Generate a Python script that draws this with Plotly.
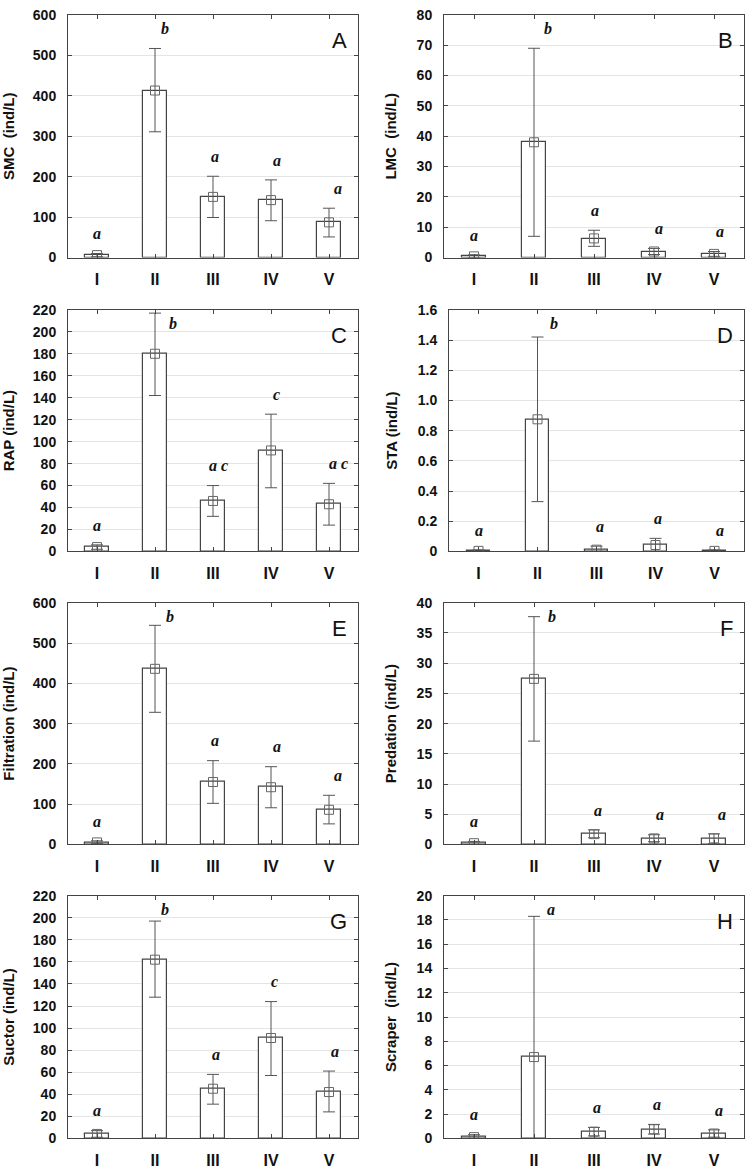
import plotly.graph_objects as go

categories = ["I", "II", "III", "IV", "V"]

# Panel A: SMC
smc_mean = [6, 413, 150, 142, 87]
smc_low = [2, 311, 99, 91, 51]
smc_high = [10, 517, 201, 192, 122]
smc_letters = ["a", "b", "a", "a", "a"]

# Panel B: LMC
lmc_mean = [0.4, 38, 6.3, 2.0, 1.2]
lmc_low = [0.0, 7, 3.7, 1.0, 0.4]
lmc_high = [0.9, 69, 9.0, 3.0, 2.0]
lmc_letters = ["a", "b", "a", "a", "a"]

# Panel C: RAP
rap_mean = [4, 180, 46, 92, 43]
rap_low = [2, 142, 32, 58, 24]
rap_high = [6, 217, 60, 125, 62]
rap_letters = ["a", "b", "a c", "c", "a c"]

# Panel D: STA
sta_mean = [0.004, 0.875, 0.012, 0.043, 0.004]
sta_low = [0.0, 0.33, 0.0, 0.0, 0.0]
sta_high = [0.01, 1.42, 0.035, 0.087, 0.01]
sta_letters = ["a", "b", "a", "a", "a"]

# Panel E: Filtration
filt_mean = [5, 436, 155, 142, 86]
filt_low = [2, 328, 102, 91, 51]
filt_high = [9, 544, 208, 193, 122]
filt_letters = ["a", "b", "a", "a", "a"]

# Panel F: Predation
pred_mean = [0.2, 27.4, 1.7, 1.0, 1.0]
pred_low = [0.0, 17.1, 1.1, 0.45, 0.1]
pred_high = [0.5, 37.7, 2.4, 1.6, 1.75]
pred_letters = ["a", "b", "a", "a", "a"]

# Panel G: Suctor
suct_mean = [4, 162, 45, 91, 42]
suct_low = [1, 128, 31, 57, 24]
suct_high = [7, 197, 58, 124, 61]
suct_letters = ["a", "b", "a", "c", "a"]

# Panel H: Scraper
scr_mean = [0.1, 6.7, 0.55, 0.75, 0.4]
scr_low = [0.0, -4.9, 0.2, 0.35, 0.1]
scr_high = [0.3, 18.3, 0.9, 1.15, 0.7]
scr_letters = ["a", "a", "a", "a", "a"]

y_titles = ["SMC  (ind/L)", "LMC  (ind/L)", "RAP (ind/L)", "STA (ind/L)",
            "Filtration (ind/L)", "Predation (ind/L)", "Suctor (ind/L)", "Scraper  (ind/L)"]
panel_labels = ["A", "B", "C", "D", "E", "F", "G", "H"]

panels = [
    (smc_mean, smc_low, smc_high, smc_letters, 600, 100),
    (lmc_mean, lmc_low, lmc_high, lmc_letters, 80, 10),
    (rap_mean, rap_low, rap_high, rap_letters, 220, 20),
    (sta_mean, sta_low, sta_high, sta_letters, 1.6, 0.2),
    (filt_mean, filt_low, filt_high, filt_letters, 600, 100),
    (pred_mean, pred_low, pred_high, pred_letters, 40, 5),
    (suct_mean, suct_low, suct_high, suct_letters, 220, 20),
    (scr_mean, scr_low, scr_high, scr_letters, 20, 2),
]

# layout (pixel geometry)
W, H = 746, 1172
rows_px = [(7, 253), (306, 551), (603, 848), (900, 1146)]
cols_px = {0: (68, 358), 1: (444, 744)}
left_override = {3: 449}
letter_dx = [
    [0, 0.17, 0.03, 0.1, 0.15],
    [0, 0.23, 0.02, 0.09, 0.1],
    [0, 0.31, 0.09, 0.1, 0.16],
    [0.01, 0.28, 0.06, 0.05, 0.1],
    [0, 0.26, 0.03, 0.1, 0.15],
    [0, 0.3, 0.07, 0.1, 0.14],
    [0, 0.18, 0.05, 0.06, 0.1],
    [0, 0.28, 0.05, 0.05, 0.08],
]

AX = "#444444"
FONT = "Liberation Sans"

fig = go.Figure()
xs = list(range(len(categories)))
annotations = []

for i, (mean, low, high, letters, ymax, dt) in enumerate(panels):
    r, c = divmod(i, 2)
    top, bot = rows_px[r]
    x0, x1 = cols_px[c]
    x0 = left_override.get(i, x0)
    n = i + 1
    xa = "x" if n == 1 else f"x{n}"
    ya = "y" if n == 1 else f"y{n}"
    xk = "xaxis" if n == 1 else f"xaxis{n}"
    yk = "yaxis" if n == 1 else f"yaxis{n}"

    fig.add_trace(go.Bar(
        x=xs, y=mean, width=0.4, xaxis=xa, yaxis=ya,
        marker=dict(color="white", line=dict(color=AX, width=1.2)),
        showlegend=False, hoverinfo="skip"))
    fig.add_trace(go.Scatter(
        x=xs, y=mean, mode="markers", xaxis=xa, yaxis=ya,
        marker=dict(symbol="square-open", size=9, color="#666666", line=dict(width=1)),
        error_y=dict(type="data", symmetric=False,
                     array=[h - m for h, m in zip(high, mean)],
                     arrayminus=[m - l for m, l in zip(mean, low)],
                     color="#555555", thickness=1, width=6),
        showlegend=False, cliponaxis=True))

    if ymax == 1.6:
        tv = [k * 0.2 for k in range(9)]
        tt = ["0"] + [f"{v:.1f}" for v in tv[1:]]
    else:
        tv = [k * dt for k in range(int(round(ymax / dt)) + 1)]
        tt = [f"{v:g}" for v in tv]

    fig.layout[xk] = dict(
        domain=[x0 / W, x1 / W], anchor=ya, range=[-0.5, 4.5],
        tickvals=xs, ticktext=categories, ticks="inside", ticklen=4,
        tickcolor=AX, showline=True, linecolor=AX, linewidth=1, mirror="ticks",
        showgrid=False, zeroline=False, ticklabelstandoff=7,
        tickfont=dict(family=FONT, size=16, weight="bold", color="#111111"))
    fig.layout[yk] = dict(
        domain=[1 - bot / H, 1 - top / H], anchor=xa, range=[0, ymax],
        tickvals=tv, ticktext=tt, ticks="inside", ticklen=4, tickcolor=AX,
        showline=True, linecolor=AX, linewidth=1, mirror="ticks",
        showgrid=True, gridcolor="#e4e4e4", gridwidth=1, zeroline=False,
        ticklabelstandoff=8,
        tickfont=dict(family=FONT, size=14, weight="bold", color="#111111"),
        title=dict(text=y_titles[i], standoff=16,
                   font=dict(family=FONT, size=15, weight="bold", color="#111111")))

    ppu = (bot - top) / ymax
    for k, lt in enumerate(letters):
        ly = min(high[k] + 18 / ppu, ymax - 16 / ppu)
        annotations.append(dict(
            x=xs[k] + letter_dx[i][k], y=ly, xref=xa, yref=ya, text=lt,
            showarrow=False, xanchor="center", yanchor="middle", yshift=2,
            font=dict(family="Liberation Serif", size=16, style="italic",
                      weight="bold", color="#111111")))
    annotations.append(dict(
        x=1, y=1, xref=f"{xa} domain", yref=f"{ya} domain", text=panel_labels[i],
        showarrow=False, xanchor="right", yanchor="top", xshift=-9, yshift=-11,
        font=dict(family=FONT, size=22, color="#111111")))

fig.update_layout(
    width=W, height=H, margin=dict(l=0, r=0, t=0, b=0),
    paper_bgcolor="white", plot_bgcolor="white",
    annotations=annotations, bargap=0)

fig.write_html("out.html", config={"displayModeBar": False},
               post_script="document.body.style.margin='0';document.body.style.overflow='hidden';")
